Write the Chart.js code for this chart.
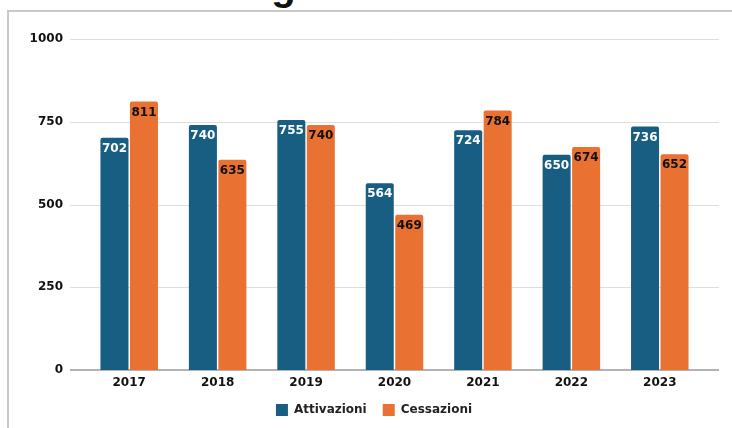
<!DOCTYPE html>
<html>
<head>
<meta charset="utf-8">
<script src="https://cdn.jsdelivr.net/npm/chart.js@4/dist/chart.umd.min.js"></script>
<style>
  html, body { margin: 0; padding: 0; background: #fff; overflow: hidden; width: 732px; height: 428px; }
  .title { position: absolute; left: 0; top: -34px; font: bold 40px "Liberation Sans", Arial, sans-serif; line-height: 40px; white-space: nowrap; color: #111; }
  .frame { position: absolute; left: 7px; top: 10px; width: 800px; height: 500px; border: 2px solid #c9c9c9; }
  canvas { position: absolute; left: 0; top: 0; }
</style>
</head>
<body>
<div class="title">Grafico 1 - Stage e tirocini</div>
<div class="frame"></div>
<canvas id="chart" width="732" height="428"></canvas>
<script>
// Annual flows
const years = ['2017', '2018', '2019', '2020', '2021', '2022', '2023'];
const attivazioni = [702, 740, 755, 564, 724, 650, 736];
const cessazioni = [811, 635, 740, 469, 784, 674, 652];
const yTickStep = 250;
const yMax = 1000;

const seriesNames = ['Attivazioni', 'Cessazioni'];
const seriesColors = ['#185e82', '#e97132'];
const valueColors = ['#ffffff', '#111111'];

const FONT = '"DejaVu Sans", Verdana, sans-serif';

// Horizontal grid and baseline, a little wider than the plot area
const wideGrid = {
  id: 'wideGrid',
  beforeDatasetsDraw(chart) {
    const { ctx, chartArea, scales } = chart;
    const y = scales.y;
    ctx.save();
    y.ticks.forEach(t => {
      const py = Math.round(y.getPixelForValue(t.value));
      ctx.beginPath();
      if (t.value === 0) {
        ctx.strokeStyle = '#9a9a9a';
        ctx.lineWidth = 1.5;
        ctx.moveTo(chartArea.left - 15, py);
        ctx.lineTo(chartArea.right + 15, py);
      } else {
        ctx.strokeStyle = '#dedede';
        ctx.lineWidth = 1;
        ctx.moveTo(chartArea.left - 15, py + 0.5);
        ctx.lineTo(chartArea.right + 15, py + 0.5);
      }
      ctx.stroke();
    });
    ctx.restore();
  }
};

// Center the legend on the whole frame rather than on the padded layout box
const legendShift = {
  id: 'legendShift',
  afterLayout(chart) {
    if (chart.legend) {
      chart.legend.left += 7;
      chart.legend.right += 7;
    }
  }
};

// Value written inside the top of each bar
const valueLabels = {
  id: 'valueLabels',
  afterDatasetsDraw(chart) {
    const ctx = chart.ctx;
    ctx.save();
    ctx.font = 'bold 12px ' + FONT;
    ctx.textAlign = 'center';
    ctx.textBaseline = 'middle';
    chart.data.datasets.forEach((ds, i) => {
      const meta = chart.getDatasetMeta(i);
      ctx.fillStyle = valueColors[i];
      meta.data.forEach((bar, j) => {
        ctx.fillText(String(ds.data[j]), bar.x, bar.y + 11);
      });
    });
    ctx.restore();
  }
};

new Chart(document.getElementById('chart'), {
  type: 'bar',
  data: {
    labels: years,
    datasets: [
      { label: seriesNames[0], data: attivazioni, backgroundColor: seriesColors[0] },
      { label: seriesNames[1], data: cessazioni, backgroundColor: seriesColors[1] }
    ]
  },
  options: {
    responsive: false,
    animation: false,
    devicePixelRatio: 1,
    categoryPercentage: 0.667,
    barPercentage: 0.95,
    datasets: { bar: { borderRadius: 2, borderSkipped: 'start' } },
    layout: { padding: { left: 30, right: 28, top: 39, bottom: 2 } },
    scales: {
      x: {
        grid: { display: false, drawTicks: false },
        border: { display: false },
        ticks: { padding: 6, color: '#111', font: { family: FONT, size: 12, weight: 'bold' } },
        afterFit(s) { s.height = 18; }
      },
      y: {
        min: 0,
        max: yMax,
        grid: { display: false, drawTicks: false },
        border: { display: false },
        ticks: {
          stepSize: yTickStep,
          padding: 22,
          color: '#111',
          font: { family: FONT, size: 12, weight: 'bold' },
          callback: v => String(v)
        },
        afterFit(s) { s.width = 55; }
      }
    },
    plugins: {
      legend: {
        position: 'bottom',
        labels: {
          boxWidth: 12,
          boxHeight: 12,
          padding: 16,
          color: '#222',
          font: { family: FONT, size: 12, weight: 'bold' }
        }
      },
      tooltip: { enabled: false }
    }
  },
  plugins: [wideGrid, legendShift, valueLabels]
});
</script>
</body>
</html>
